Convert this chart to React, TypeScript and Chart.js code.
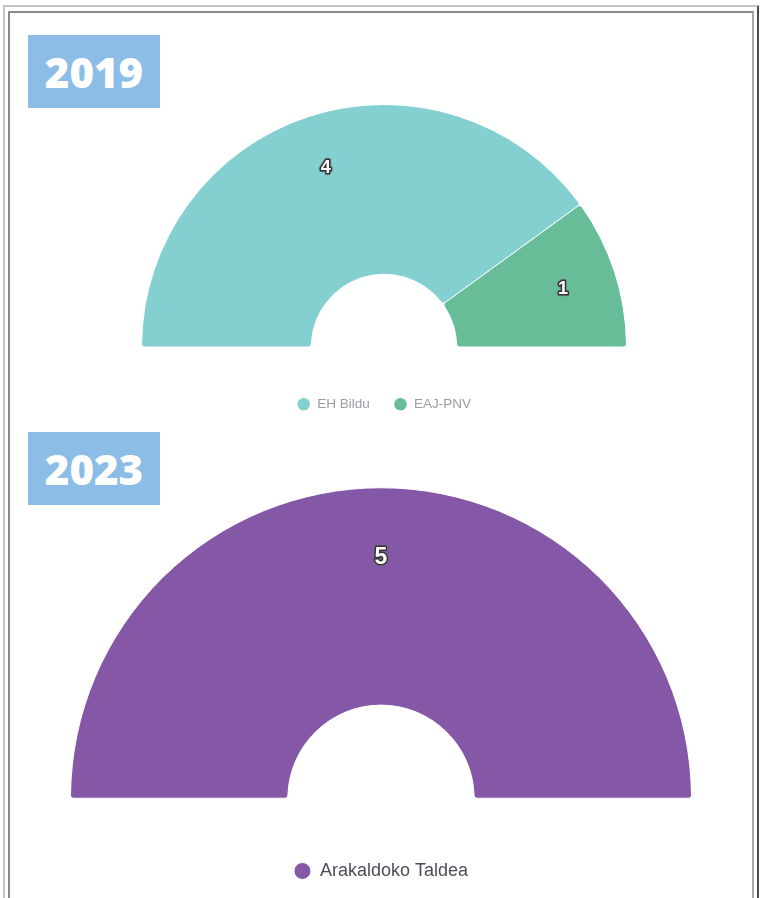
import React, { useEffect, useRef } from "react";
import { Chart, registerables } from "chart.js";

Chart.register(...registerables);

const parties2019 = ["EH Bildu", "EAJ-PNV"];
const seats2019 = [4, 1];
const colors2019 = ["#84cfcf", "#66bd98"];

const parties2023 = ["Arakaldoko Taldea"];
const seats2023 = [5];
const colors2023 = ["#8458a6"];

const arcLabelPlugin = {
  id: "arcLabels",
  afterDatasetsDraw(chart: any, _args: any, opts: any) {
    const ctx = chart.ctx;
    const meta = chart.getDatasetMeta(0);
    const data = chart.data.datasets[0].data;
    meta.data.forEach((arc: any, i: number) => {
      const p = arc.getProps(["x", "y", "startAngle", "endAngle", "innerRadius", "outerRadius"], true);
      const mid = (p.startAngle + p.endAngle) / 2;
      const r = p.innerRadius + opts.ratio * (p.outerRadius - p.innerRadius);
      const px = p.x + Math.cos(mid) * r;
      const py = p.y + Math.sin(mid) * r;
      ctx.save();
      ctx.font = `bold ${opts.size}px "Liberation Sans", Arial, sans-serif`;
      ctx.textAlign = "center";
      ctx.textBaseline = "middle";
      ctx.lineJoin = "round";
      ctx.lineWidth = opts.stroke + 1.5;
      ctx.strokeStyle = "rgba(120,120,120,0.5)";
      ctx.strokeText(String(data[i]), px, py);
      ctx.lineWidth = opts.stroke;
      ctx.strokeStyle = "#333";
      ctx.strokeText(String(data[i]), px, py);
      ctx.fillStyle = "#fff";
      ctx.fillText(String(data[i]), px, py);
      ctx.restore();
    });
  },
};

type HalfProps = {
  labels: string[];
  values: number[];
  colors: string[];
  left: number;
  top: number;
  width: number;
  height: number;
  legendFont: number;
  legendColor: string;
  legendPadding: number;
  boxW: number;
  boxH: number;
  labelSize: number;
};

function HalfDoughnut(props: HalfProps) {
  const ref = useRef<HTMLCanvasElement | null>(null);
  useEffect(() => {
    if (!ref.current) return;
    const chart = new Chart(ref.current, {
      type: "doughnut",
      data: {
        labels: props.labels,
        datasets: [
          {
            data: props.values,
            backgroundColor: props.colors,
            borderColor: "#ffffff",
            borderWidth: 1,
            borderRadius: 3,
          },
        ],
      },
      options: {
        responsive: false,
        animation: false,
        devicePixelRatio: 1,
        rotation: -90,
        circumference: 180,
        cutout: "30%",
        layout: { padding: 0 },
        plugins: {
          tooltip: { enabled: false },
          legend: {
            display: true,
            position: "bottom",
            labels: {
              usePointStyle: true,
              pointStyle: "circle",
              boxWidth: props.boxW,
              boxHeight: props.boxH,
              padding: props.legendPadding,
              color: props.legendColor,
              font: { size: props.legendFont, family: '"Liberation Sans", Arial, sans-serif' },
            },
          },
          arcLabels: { ratio: 0.68, size: props.labelSize, stroke: 3 },
        } as any,
      },
      plugins: [arcLabelPlugin],
    });
    return () => chart.destroy();
  }, []);
  return (
    <canvas
      ref={ref}
      width={props.width}
      height={props.height}
      style={{ position: "absolute", left: props.left, top: props.top, width: props.width, height: props.height }}
    />
  );
}

function Badge({ text, top }: { text: string; top: number }) {
  return (
    <div
      style={{
        position: "absolute",
        left: 28,
        top,
        width: 132,
        height: 73,
        background: "#8bbde6",
        color: "#fff",
        fontFamily: '"Open Sans", "DejaVu Sans", sans-serif',
        fontWeight: 800,
        fontSize: 42,
        lineHeight: "73px",
        textAlign: "center",
        letterSpacing: 0,
        zIndex: 2,
      }}
    >
      {text}
    </div>
  );
}

export default function App() {
  return (
    <div style={{ position: "absolute", left: 0, top: 0, width: 782, height: 898, overflow: "hidden", background: "#fff" }}>
      <div
        style={{
          position: "absolute",
          left: 3,
          top: 5,
          width: 752,
          height: 920,
          borderTop: "2px solid #c4c4c4",
          borderLeft: "2px solid #c4c4c4",
          borderRight: "2px solid #4a4a4a",
        }}
      />
      <div
        style={{
          position: "absolute",
          left: 8,
          top: 11,
          width: 742,
          height: 920,
          borderTop: "2px solid #8a8a8a",
          borderLeft: "2px solid #8a8a8a",
          borderRight: "2px solid #a8a8a8",
        }}
      />
      <Badge text="2019" top={35} />
      <Badge text="2023" top={432} />
      <HalfDoughnut
        labels={parties2019}
        values={seats2019}
        colors={colors2019}
        left={141}
        top={78}
        width={486}
        height={343}
        legendFont={13.5}
        legendColor="#9a9ca3"
        legendPadding={24}
        boxW={15}
        boxH={9.5}
        labelSize={18}
      />
      <HalfDoughnut
        labels={parties2023}
        values={seats2023}
        colors={colors2023}
        left={70}
        top={434}
        width={622}
        height={456}
        legendFont={18}
        legendColor="#4a4f57"
        legendPadding={10}
        boxW={17}
        boxH={12}
        labelSize={23}
      />
    </div>
  );
}
